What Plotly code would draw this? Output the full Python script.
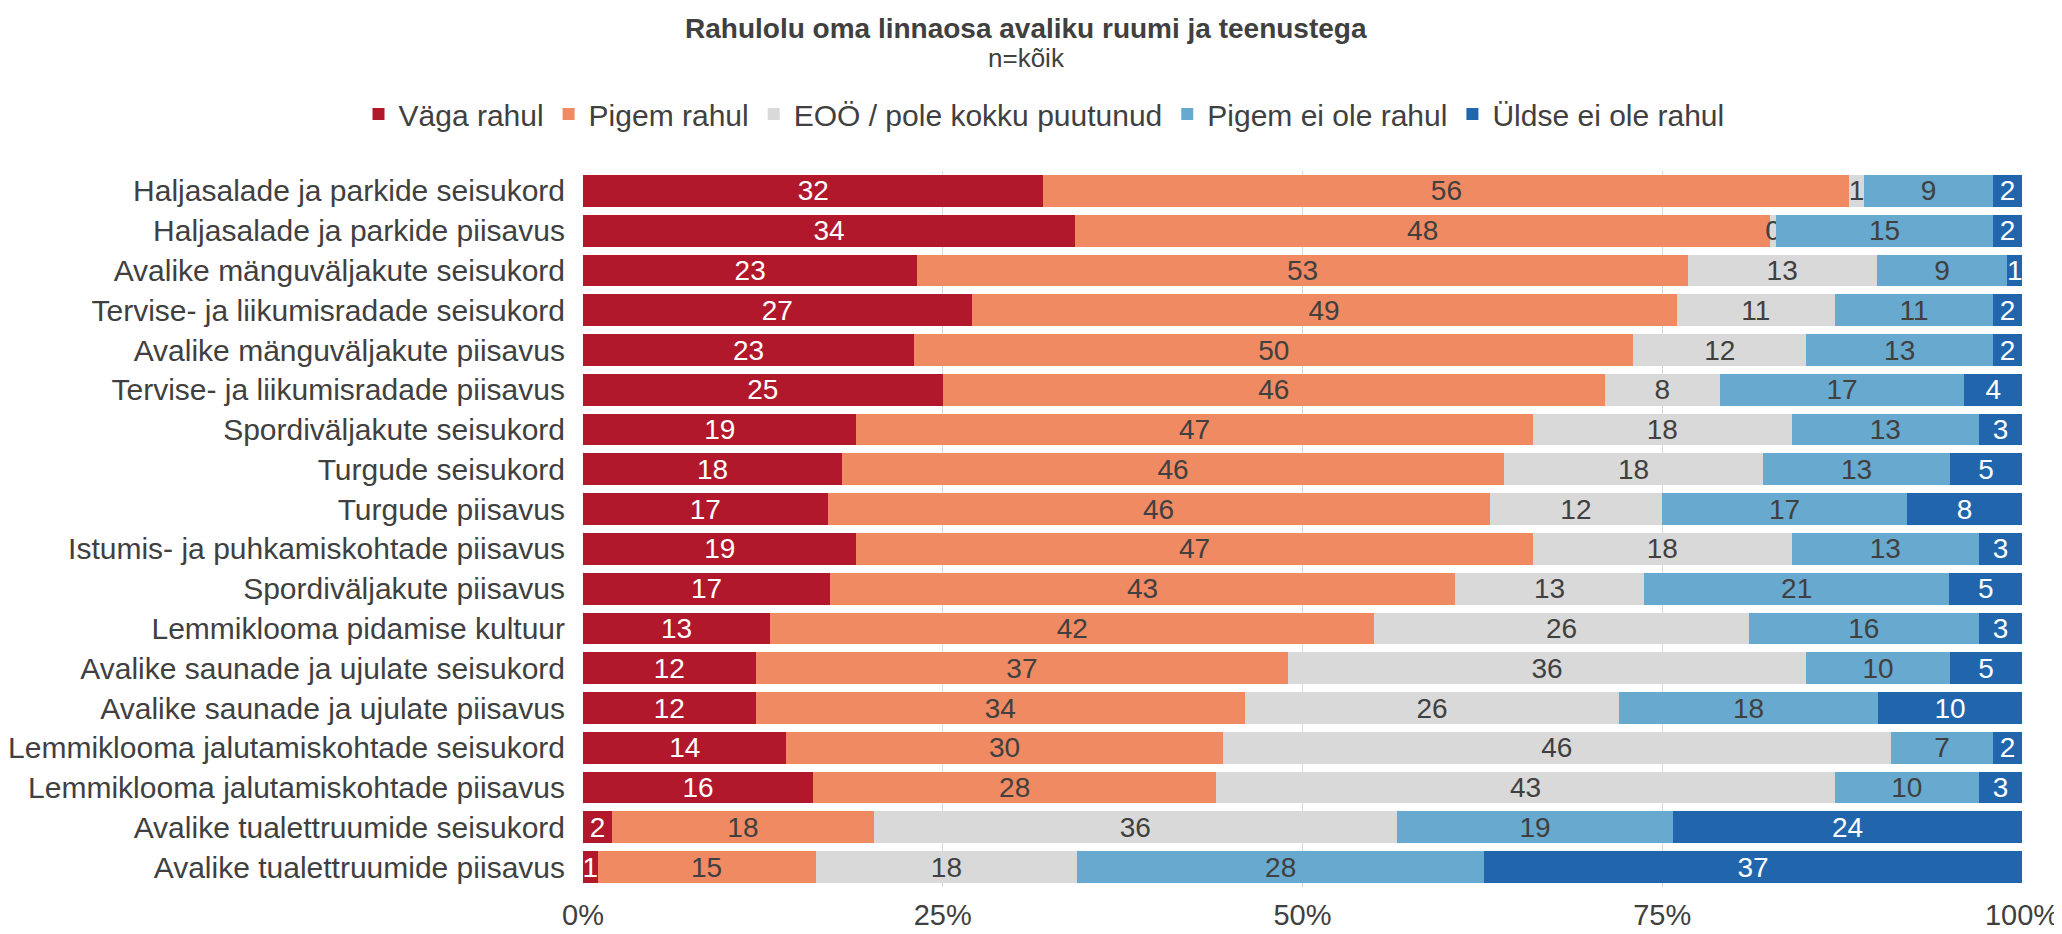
import plotly.graph_objects as go

categories = [
    "Haljasalade ja parkide seisukord",
    "Haljasalade ja parkide piisavus",
    "Avalike mänguväljakute seisukord",
    "Tervise- ja liikumisradade seisukord",
    "Avalike mänguväljakute piisavus",
    "Tervise- ja liikumisradade piisavus",
    "Spordiväljakute seisukord",
    "Turgude seisukord",
    "Turgude piisavus",
    "Istumis- ja puhkamiskohtade piisavus",
    "Spordiväljakute piisavus",
    "Lemmiklooma pidamise kultuur",
    "Avalike saunade ja ujulate seisukord",
    "Avalike saunade ja ujulate piisavus",
    "Lemmiklooma jalutamiskohtade seisukord",
    "Lemmiklooma jalutamiskohtade piisavus",
    "Avalike tualettruumide seisukord",
    "Avalike tualettruumide piisavus",
]

vaga_rahul = [32, 34, 23, 27, 23, 25, 19, 18, 17, 19, 17, 13, 12, 12, 14, 16, 2, 1]
pigem_rahul = [56, 48, 53, 49, 50, 46, 47, 46, 46, 47, 43, 42, 37, 34, 30, 28, 18, 15]
eoo = [1, 0.4, 13, 11, 12, 8, 18, 18, 12, 18, 13, 26, 36, 26, 46, 43, 36, 18]
pigem_ei = [9, 15, 9, 11, 13, 17, 13, 13, 17, 13, 21, 16, 10, 18, 7, 10, 19, 28]
uldse_ei = [2, 2, 1, 2, 2, 4, 3, 5, 8, 3, 5, 3, 5, 10, 2, 3, 24, 37]

series_names = ["Väga rahul", "Pigem rahul", "EOÖ / pole kokku puutunud",
                "Pigem ei ole rahul", "Üldse ei ole rahul"]
series_values = [vaga_rahul, pigem_rahul, eoo, pigem_ei, uldse_ei]
series_colors = ["#b2182b", "#ef8a62", "#d9d9d9", "#67a9cf", "#2166ac"]
label_colors = ["#ffffff", "#404040", "#404040", "#404040", "#ffffff"]

tick_vals = [0, 25, 50, 75, 100]
tick_text = ["0%", "25%", "50%", "75%", "100%"]

title_text = "Rahulolu oma linnaosa avaliku ruumi ja teenustega"
subtitle_text = "n=kõik"

FONT = "Liberation Sans, Arial, sans-serif"
TXT = "#404040"

# The page body has an 8px margin, so the figure is drawn 8px in from the
# window's top-left corner; size the figure to fill the rest of the window.
W, H = 2054, 926

fig = go.Figure()
for name, vals, col, lc in zip(series_names, series_values, series_colors, label_colors):
    fig.add_trace(go.Bar(
        y=categories, x=vals, name=name, orientation="h",
        marker=dict(color=col, line=dict(width=0)),
        text=[f"{round(v):d}" for v in vals],
        texttemplate="%{text}",
        textposition="inside", insidetextanchor="middle", textangle=0,
        textfont=dict(family=FONT, size=28, color=lc),
        hoverinfo="skip",
    ))

# plot area in window px: x 583..2022, y 171..887
fig.add_annotation(text=f"<b>{title_text}</b>", xref="paper", yref="paper",
                   x=(1026 - 583) / 1439, y=1 + (171 - 28) / 716,
                   xanchor="center", yanchor="middle", showarrow=False,
                   font=dict(family=FONT, size=28, color=TXT))
fig.add_annotation(text=subtitle_text, xref="paper", yref="paper",
                   x=(1026 - 583) / 1439, y=1 + (171 - 58) / 716,
                   xanchor="center", yanchor="middle", showarrow=False,
                   font=dict(family=FONT, size=26, color=TXT))

fig.update_layout(
    width=W, height=H,
    barmode="stack", barnorm="percent", bargap=0.2,
    paper_bgcolor="white", plot_bgcolor="white",
    margin=dict(l=575, r=40, t=163, b=47, autoexpand=False),
    font=dict(family=FONT, size=30, color=TXT),
    uniformtext=dict(minsize=28, mode="show"),
    legend=dict(
        orientation="h", x=1036 / W, xref="container", xanchor="center",
        y=1 - 80 / H, yref="container", yanchor="top",
        font=dict(family=FONT, size=30, color=TXT),
        traceorder="normal",
    ),
    xaxis=dict(
        range=[0, 100], tickvals=tick_vals, ticktext=tick_text,
        showgrid=True, gridcolor="#d9d9d9", gridwidth=1,
        zeroline=False, showline=False, automargin=False,
        tickfont=dict(family=FONT, size=29, color=TXT),
        ticklabelstandoff=8,
        fixedrange=True,
    ),
    yaxis=dict(
        autorange="reversed", showgrid=False, zeroline=False,
        showline=False, automargin=False,
        tickfont=dict(family=FONT, size=30, color=TXT),
        ticklabelstandoff=17,
        fixedrange=True,
    ),
)

fig.write_html("out.html")
